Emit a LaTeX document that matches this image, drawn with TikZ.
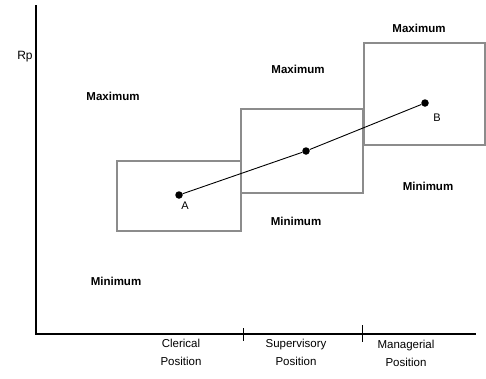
\documentclass[tikz,border=0pt]{standalone}
\usepackage{fontspec}
\setmainfont{Liberation Sans}
\begin{document}
\begin{tikzpicture}[x=1pt,y=-1pt,
  band/.style={draw=black!45,line width=2.6pt},
  axis/.style={draw=black,line width=2.2pt},
  tickmark/.style={draw=black,line width=1pt},
  dot/.style={circle,fill=black,inner sep=0pt,minimum size=7.5pt},
  lvl/.style={font=\bfseries\fontsize{11.5}{13}\selectfont,inner sep=0pt},
  poslabel/.style={font=\fontsize{11.5}{18}\selectfont,align=center,inner sep=0pt},
  tag/.style={font=\fontsize{11}{13}\selectfont,inner sep=0pt}]
\useasboundingbox (0,0) rectangle (486,378);
% axes
\coordinate (top) at (36,5);
\coordinate (origin) at (36,334);
\coordinate (right) at (476,334);
\draw[axis] (top) -- (origin) -- (right);
\draw[tickmark] (243,328) -- (243,341);
\draw[tickmark] (362,325) -- (362,342);
% salary ranges per level
\draw[band] (117,161) rectangle (241,231);
\draw[band] (241,109) rectangle (363,193);
\draw[band] (364,43) rectangle (485,145);
% midpoints
\node[dot] (A) at (179,195) {};
\node[dot] (M) at (306,151) {};
\node[dot] (B) at (425,103) {};
\draw[line width=0.9pt] (A) -- (M) -- (B);
\node[tag] at (185,206) {A};
\node[tag] at (437,118) {B};
% labels
\node[font=\fontsize{12}{14}\selectfont,inner sep=0pt] at (25,57) {Rp};
\node[lvl] at (113,96) {Maximum};
\node[lvl] at (116,281) {Minimum};
\node[lvl] at (298,69) {Maximum};
\node[lvl] at (296,221) {Minimum};
\node[lvl] at (419,28) {Maximum};
\node[lvl] at (428,186) {Minimum};
\node[poslabel] at (181,352) {Clerical\\Position};
\node[poslabel] at (296,352) {Supervisory\\Position};
\node[poslabel] at (406,353) {Managerial\\Position};
\end{tikzpicture}
\end{document}
